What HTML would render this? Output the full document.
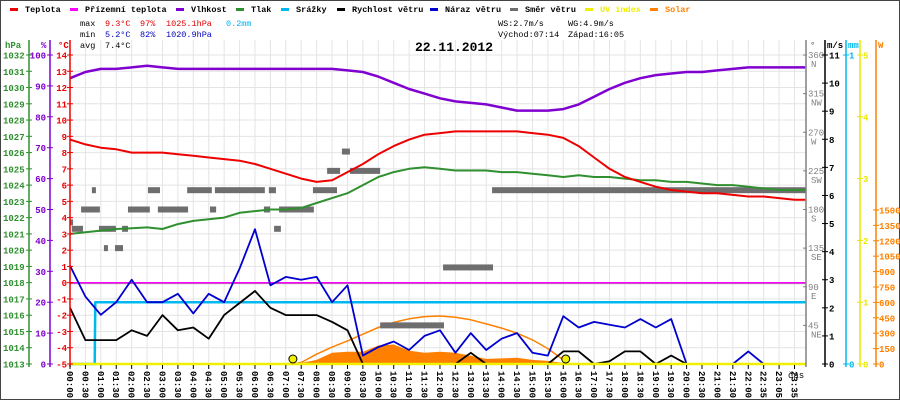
<!DOCTYPE html>
<html><head><meta charset="utf-8">
<style>
html,body{margin:0;padding:0;background:#fff;}
svg{display:block;font-family:"Liberation Mono",monospace;}
</style></head>
<body>
<svg id="chart" width="900" height="400" viewBox="0 0 900 400" xmlns="http://www.w3.org/2000/svg">
<rect x="0.5" y="0.5" width="899" height="399" fill="#fff" stroke="#444"/>
<g id="grid"></g>
<g id="marks"></g>
<g id="axes"></g>
<g id="legend" font-size="8.5" font-weight="bold"></g>
<g font-size="8.5">
<text x="80" y="26" fill="#000">max</text><text x="105" y="26" fill="#e00000">9.3°C</text><text x="140" y="26" fill="#e00000">97%</text><text x="166" y="26" fill="#e00000">1025.1hPa</text><text x="226" y="26" fill="#00b0f0">0.2mm</text>
<text x="80" y="37" fill="#000">min</text><text x="105" y="37" fill="#0000c0">5.2°C</text><text x="140" y="37" fill="#0000c0">82%</text><text x="166" y="37" fill="#0000c0">1020.9hPa</text>
<text x="80" y="48" fill="#000">avg</text><text x="105" y="48" fill="#000">7.4°C</text>
<text x="498" y="26" fill="#000">WS:2.7m/s</text><text x="568" y="26" fill="#000">WG:4.9m/s</text>
<text x="498" y="37" fill="#000">Východ:07:14</text><text x="568" y="37" fill="#000">Západ:16:05</text>
</g>
<text x="415" y="51" font-size="13" font-weight="bold" fill="#000">22.11.2012</text>
</svg>
<script>
const hours = [0,0.5,1,1.5,2,2.5,3,3.5,4,4.5,5,5.5,6,6.5,7,7.5,8,8.5,9,9.5,10,10.5,11,11.5,12,12.5,13,13.5,14,14.5,15,15.5,16,16.5,17,17.5,18,18.5,19,19.5,20,20.5,21,21.5,22,22.5,23,23.5,23.85];
const temperature = [8.8,8.5,8.3,8.2,8.0,8.0,8.0,7.9,7.8,7.7,7.6,7.5,7.3,7.0,6.7,6.4,6.2,6.3,6.8,7.3,7.9,8.4,8.8,9.1,9.2,9.3,9.3,9.3,9.3,9.3,9.2,9.1,8.9,8.4,7.7,7.0,6.5,6.2,5.9,5.7,5.6,5.5,5.5,5.4,5.3,5.3,5.2,5.1,5.1];
const groundTemp = [0,0,0,0,0,0,0,0,0,0,0,0,0,0,0,0,0,0,0,0,0,0,0,0,0,0,0,0,0,0,0,0,0,0,0,0,0,0,0,0,0,0,0,0,0,0,0,0,0];
const humidity = [92.5,94.5,95.5,95.5,96,96.5,96,95.5,95.5,95.5,95.5,95.5,95.5,95.5,95.5,95.5,95.5,95.5,95,94.5,93,91,89,87.5,86,85,84.5,84,83,82,82,82,82.5,84,86.5,89,91,92.5,93.5,94,94.5,94.5,95,95.5,96,96,96,96,96];
const pressure = [1021.0,1021.1,1021.2,1021.3,1021.35,1021.4,1021.3,1021.6,1021.8,1021.9,1022.0,1022.3,1022.4,1022.5,1022.5,1022.6,1022.9,1023.2,1023.5,1024.0,1024.5,1024.8,1025.0,1025.1,1025.0,1024.9,1024.9,1024.9,1024.8,1024.8,1024.7,1024.6,1024.5,1024.6,1024.5,1024.5,1024.4,1024.3,1024.3,1024.2,1024.2,1024.1,1024.0,1024.0,1023.9,1023.8,1023.7,1023.7,1023.7];
const gust = [3.5,2.4,1.75,2.2,3.0,2.2,2.2,2.5,1.8,2.5,2.2,3.4,4.8,2.8,3.1,3.0,3.1,2.2,2.8,0.3,0.6,0.8,0.5,1.0,1.2,0.4,1.1,0.5,0.9,1.1,0.4,0.3,1.7,1.3,1.5,1.4,1.3,1.6,1.3,1.6,0,0,0,0,0.45,0,0,0,0];
const windSpeed = [2.0,0.85,0.85,0.85,1.2,1.0,1.74,1.2,1.3,0.9,1.74,2.17,2.6,2.0,1.74,1.74,1.74,1.5,1.2,0,0,0,0,0,0,0,0.4,0,0,0,0,0,0.45,0.45,0,0.1,0.45,0.45,0,0.3,0,0,0,0,0,0,0,0,0];
const rainHours = [0,0.8,0.82,23.85];
const rainMm = [0,0,0.2,0.2];
const solarHours = [7,7.5,8,8.5,9,9.5,10,10.5,11,11.5,12,12.5,13,13.5,14,14.5,15,15.5,16,16.5];
const solarValues = [0,10,40,110,120,120,180,190,130,110,120,110,80,50,55,60,40,30,10,0];
const solarMaxHours = [7.23,7.5,8,8.5,9,9.5,10,10.5,11,11.5,12,12.5,13,13.5,14,14.5,15,15.5,16,16.08];
const solarMaxValues = [0,15,95,165,225,290,355,405,440,462,467,455,430,390,350,300,235,150,40,0];
const dirStart = [0,0.06,0.36,0.71,0.94,1.1,1.46,1.69,1.88,2.53,2.85,3.8,4.54,4.7,6.29,6.45,6.62,6.78,7.88,8.34,8.82,9.08,10.06,12.1,13.69];
const dirEnd =   [0.1,0.42,0.97,0.84,1.49,1.23,1.72,1.88,2.59,2.92,3.83,4.6,4.74,6.32,6.49,6.68,6.84,7.91,8.66,8.76,9.08,10.06,12.13,13.72,23.87];
const dirDeg =   [165,157.5,180,202.5,157.5,135,135,157.5,180,202.5,180,202.5,180,202.5,180,202.5,157.5,180,202.5,225,247.5,225,45,112.5,202.5];
const sunEvents = [7.23,16.08];
const timeLabels = ["00:00","00:30","01:00","01:30","02:00","02:30","03:00","03:30","04:00","04:30","05:00","05:30","06:00","06:30","07:00","07:30","08:00","08:30","09:00","09:30","10:00","10:30","11:00","11:30","12:00","12:30","13:00","13:30","14:00","14:30","15:00","15:30","16:00","16:30","17:00","17:30","18:00","18:30","19:00","19:30","20:00","20:30","21:00","21:30","22:00","22:35","23:05","23:35"];
const pressTicks = [1013,1014,1015,1016,1017,1018,1019,1020,1021,1022,1023,1024,1025,1026,1027,1028,1029,1030,1031,1032];
const humTicks = [0,10,20,30,40,50,60,70,80,90,100];
const tempTicks = [-5,-4,-3,-2,-1,0,1,2,3,4,5,6,7,8,9,10,11,12,13,14];
const dirTicks = [45,90,135,180,225,270,315,360];
const dirNames = ["NE","E","SE","S","SW","W","NW","N"];
const msTicks = [0,1,2,3,4,5,6,7,8,9,10,11];
const mmTicks = [0,1];
const uvTicks = [0,1,2,3,4,5];
const wTicks = [0,150,300,450,600,750,900,1050,1200,1350,1500];

const NS='http://www.w3.org/2000/svg';
const X0=70, XR=806, YT=55, YB=364, H=YB-YT;
const xT = h => X0 + h*30.83;
const yTemp = t => YB - (t+5)/19*H;
const yHum = v => YB - v/100*H;
const yPres = p => YB - (p-1013)/19*H;
const yMs = v => YB - v/11*H;
const yMm = v => YB - v*H;
const yUv = v => YB - v/5*H;
const yW = v => YB - v*0.1027;
const yDir = d => YB - d/360*H;

function mk(tag, attrs, parent){const e=document.createElementNS(NS,tag);for(const k in attrs)e.setAttribute(k,attrs[k]);parent.appendChild(e);return e;}
const grid=document.getElementById('grid'), marks=document.getElementById('marks'), axes=document.getElementById('axes'), legend=document.getElementById('legend');

for(let i=0;i<48;i++){const x=xT(i*0.5);const l=mk('line',{x1:x,x2:x,y1:40,y2:YB,stroke:'#e4e4e4','stroke-width':1},grid);

}
tempTicks.forEach(t=>{const y=yTemp(t);const l=mk('line',{x1:X0,x2:XR,y1:y,y2:y,stroke:'#e4e4e4','stroke-width':1},grid);

});
const zl=mk('line',{x1:X0,x2:XR,y1:yTemp(0)+1,y2:yTemp(0)+1,stroke:'#999','stroke-width':1},grid);



function poly(xs,ys,fx,fy,color,w,name){const pts=xs.map((h,i)=>xT(Math.min(h,23.85)).toFixed(1)+','+fy(ys[i]).toFixed(1)).join(' ');
const p=mk('polyline',{points:pts,fill:'none',stroke:color,'stroke-width':w,'stroke-linejoin':'round'},marks);

return p;}

{const pts=[xT(solarHours[0])+','+YB].concat(solarHours.map((h,i)=>xT(h).toFixed(1)+','+yW(solarValues[i]).toFixed(1))).concat([xT(solarHours[solarHours.length-1])+','+YB]).join(' ');
const p=mk('polygon',{points:pts,fill:'#ff8000'},marks);

}
poly(solarMaxHours,solarMaxValues,xT,yW,'#ff8000',1.5,'solar-max-curve');

dirDeg.forEach((d,i)=>{const x1=xT(dirStart[i]),x2=xT(dirEnd[i]);const r=mk('rect',{x:x1,y:yDir(d)-3,width:Math.max(2,x2-x1),height:6,fill:'#6e6e6e'},marks);

});

poly(hours,groundTemp,xT,yTemp,'#ff00ff',1.5,'ground-temp-line');
poly(rainHours,rainMm,xT,yMm,'#00b8f0',2.5,'rain-line');
poly(hours,humidity,xT,yHum,'#8000d0',2.5,'humidity-line');
poly(hours,pressure,xT,yPres,'#309030',2,'pressure-line');
poly(hours,temperature,xT,yTemp,'#ee0000',2,'temperature-line');
poly(hours,gust,xT,yMs,'#0000d0',1.8,'gust-line');
poly(hours,windSpeed,xT,yMs,'#000',1.8,'wind-speed-line');

const uvl=mk('line',{x1:X0,x2:XR,y1:YB,y2:YB,stroke:'#f0f000','stroke-width':2.5},marks);


sunEvents.forEach((h,i)=>{const c=mk('circle',{cx:xT(h),cy:YB-5,r:4,fill:'#f0f000',stroke:'#000','stroke-width':1},marks);

});

function axis(x,color,ticks,fy,labelX,anchor,title,titleX,name){
const l=mk('line',{x1:x,x2:x,y1:40,y2:YB+3,stroke:color,'stroke-width':1.5},axes);


const tt=mk('text',{x:titleX,y:48,fill:color,'font-size':9,'font-weight':'bold'},axes);tt.textContent=title;


ticks.forEach(v=>{const y=fy(v);mk('line',{x1:x-3,x2:x+3,y1:y,y2:y,stroke:color,'stroke-width':1},axes);
const t=mk('text',{x:labelX,y:y+3.5,fill:color,'font-size':9,'font-weight':'bold','text-anchor':anchor},axes);t.textContent=v;

});}
axis(29,'#309030',pressTicks,yPres,3,'start','hPa',5,'pressure-axis');
axis(50,'#8000d0',humTicks,yHum,46,'end','%',41,'humidity-axis');
axis(70,'#ee0000',tempTicks,yTemp,67,'end','°C',58,'temperature-axis');
axis(XR,'#808080',[],yDir,0,'start','°',810,'direction-axis');
dirTicks.forEach((d,i)=>{const y=yDir(d);mk('line',{x1:XR-3,x2:XR+1,y1:y,y2:y,stroke:'#808080'},axes);
const t=mk('text',{x:XR+2,y:y+3,fill:'#808080','font-size':9},axes);t.textContent=d;


const n=mk('text',{x:XR+5,y:y+12,fill:'#808080','font-size':9},axes);n.textContent=dirNames[i];

});
axis(825,'#000',msTicks,yMs,829,'start','m/s',827,'wind-speed-axis');
axis(846,'#00b8f0',mmTicks,yMm,849,'start','mm',848,'rain-axis');
axis(860,'#e8e800',uvTicks,yUv,863,'start','',862,'uv-axis');
axis(876,'#ff8000',wTicks,yW,879,'start','W',878,'solar-axis');

timeLabels.forEach((s,i)=>{const x=xT(i*0.5);mk('line',{x1:x,x2:x,y1:YB+1,y2:YB+5,stroke:'#000'},axes);
const t=mk('text',{x:0,y:0,fill:'#000','font-size':9,'font-weight':'bold',transform:`translate(${x-3},371) rotate(90)`},axes);t.textContent=s;

});
const cas=mk('text',{x:788,y:378,fill:'#000','font-size':9},axes);cas.textContent='čas';



const legItems=[['Teplota','#ee0000',10],['Přízemní teplota','#ff00ff',70],['Vlhkost','#8000d0',176],['Tlak','#309030',236],['Srážky','#00b8f0',281],['Rychlost větru','#000',337],['Náraz větru','#0000d0',430],['Směr větru','#6e6e6e',510],['UV index','#f0f000',585],['Solar','#ff8000',650]];
legItems.forEach(([n,c,x])=>{const g=mk('g',{},legend);


mk('rect',{x:x,y:8,width:8,height:3,fill:c},g);
const t=mk('text',{x:x+15,y:12,fill:(c==='#f0f000'||c==='#ff8000')?c:'#000'},g);t.textContent=n;});
</script>
</body></html>
